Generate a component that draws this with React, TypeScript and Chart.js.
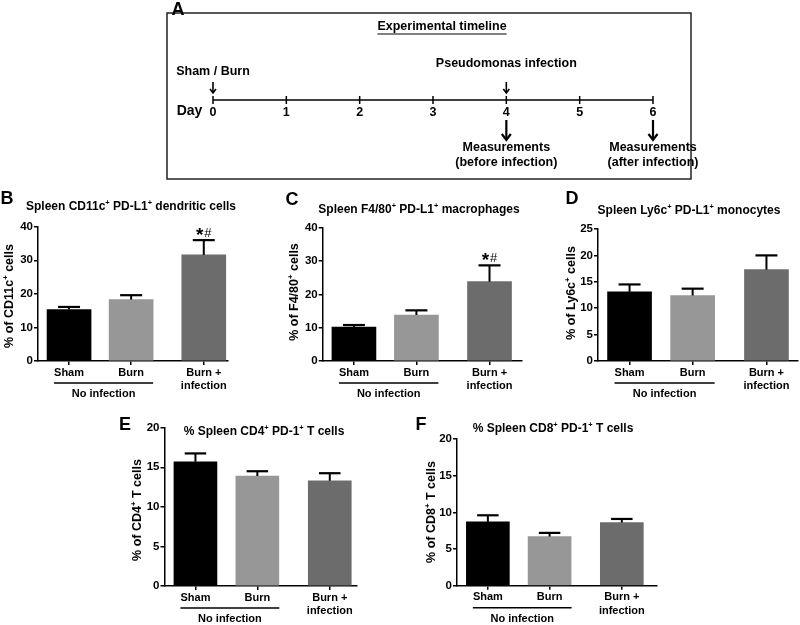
import React, { useEffect, useRef } from 'react';
import { Chart, registerables } from 'chart.js';

Chart.register(...registerables);

const FONT = '"Liberation Sans", Arial, Helvetica, sans-serif';
const W = 800;
const H = 625;

// ---------------- DATA ----------------
const GROUPS = ['Sham', 'Burn', 'Burn +\ninfection'];
const BRACKET_LABEL = 'No infection';

const B_MEANS = [15.3, 18.3, 31.6];
const B_SEM = [0.8, 1.3, 4.4];
const B_SIG = ['', '', '*#'];

const C_MEANS = [10.2, 13.8, 23.8];
const C_SEM = [0.6, 1.4, 4.9];
const C_SIG = ['', '', '*#'];

const D_MEANS = [13.1, 12.4, 17.3];
const D_SEM = [1.4, 1.3, 2.7];
const D_SIG = ['', '', ''];

const E_MEANS = [15.7, 13.9, 13.3];
const E_SEM = [1.05, 0.6, 0.95];
const E_SIG = ['', '', ''];

const F_MEANS = [8.7, 6.7, 8.6];
const F_SEM = [0.9, 0.5, 0.5];
const F_SIG = ['', '', ''];

const DAYS = [0, 1, 2, 3, 4, 5, 6];
const TIMELINE_TITLE = 'Experimental timeline';
const EVENTS_ABOVE = [
  { day: 0, label: 'Sham / Burn' },
  { day: 4, label: 'Pseudomonas infection' },
];
const EVENTS_BELOW = [
  { day: 4, lines: ['Measurements', '(before infection)'] },
  { day: 6, lines: ['Measurements', '(after infection)'] },
];

// ---------------- STYLE / LAYOUT ----------------
const BAR_COLORS = ['#000000', '#979797', '#6c6c6c'];
const SLOTS = [0, 1, 2.17];
const Y_AXIS_W = 34;
const X_AXIS_H = 40;

type Panel = {
  letter: string;
  letterPos: [number, number];
  title: string;
  titlePos: [number, number];
  titleSize: number;
  yTitle: string;
  yTitlePos: [number, number];
  means: number[];
  sems: number[];
  sig: string[];
  yMax: number;
  yStep: number;
  area: { l: number; t: number; r: number; b: number };
  xMax: number;
  barW: number;
};

const PANELS: Panel[] = [
  {
    letter: 'B', letterPos: [7, 199],
    title: 'Spleen CD11c^+ PD-L1^+ dendritic cells', titlePos: [131, 207], titleSize: 12,
    yTitle: '% of CD11c^+ cells', yTitlePos: [10, 296],
    means: B_MEANS, sems: B_SEM, sig: B_SIG, yMax: 40, yStep: 10,
    area: { l: 38, t: 226.7, r: 228, b: 361 }, xMax: 2.56, barW: 44,
  },
  {
    letter: 'C', letterPos: [292, 200],
    title: 'Spleen F4/80^+ PD-L1^+ macrophages', titlePos: [419, 210], titleSize: 12,
    yTitle: '% of F4/80^+ cells', yTitlePos: [295, 292],
    means: C_MEANS, sems: C_SEM, sig: C_SIG, yMax: 40, yStep: 10,
    area: { l: 322.7, t: 227.7, r: 522, b: 361 }, xMax: 2.69, barW: 44,
  },
  {
    letter: 'D', letterPos: [572, 199],
    title: 'Spleen Ly6c^+ PD-L1^+ monocytes', titlePos: [689, 211], titleSize: 12,
    yTitle: '% of Ly6c^+ cells', yTitlePos: [572, 293],
    means: D_MEANS, sems: D_SEM, sig: D_SIG, yMax: 25, yStep: 5,
    area: { l: 598, t: 229, r: 798, b: 361 }, xMax: 2.67, barW: 44,
  },
  {
    letter: 'E', letterPos: [125, 425],
    title: '% Spleen CD4^+ PD-1^+ T cells', titlePos: [264, 432], titleSize: 12,
    yTitle: '% of CD4^+ T cells', yTitlePos: [138, 510],
    means: E_MEANS, sems: E_SEM, sig: E_SIG, yMax: 20, yStep: 5,
    area: { l: 164.5, t: 427.7, r: 357, b: 586 }, xMax: 2.61, barW: 43,
  },
  {
    letter: 'F', letterPos: [421, 425],
    title: '% Spleen CD8^+ PD-1^+ T cells', titlePos: [553, 429], titleSize: 12,
    yTitle: '% of CD8^+ T cells', yTitlePos: [432, 512],
    means: F_MEANS, sems: F_SEM, sig: F_SIG, yMax: 20, yStep: 5,
    area: { l: 457, t: 439, r: 657, b: 585.7 }, xMax: 2.74, barW: 43,
  },
];

// ---------------- HELPERS ----------------
function drawRich(ctx: CanvasRenderingContext2D, text: string, x: number, y: number, size: number, align: 'left' | 'center' | 'right') {
  const parts = text.split(/(\^\+)/).filter((p) => p.length > 0);
  const base = `bold ${size}px ${FONT}`;
  const sup = `bold ${Math.round(size * 0.62 * 10) / 10}px ${FONT}`;
  let w = 0;
  for (const p of parts) {
    ctx.font = p === '^+' ? sup : base;
    w += ctx.measureText(p === '^+' ? '+' : p).width;
  }
  let cx = align === 'left' ? x : align === 'center' ? x - w / 2 : x - w;
  ctx.textAlign = 'left';
  ctx.textBaseline = 'middle';
  for (const p of parts) {
    if (p === '^+') {
      ctx.font = sup;
      ctx.fillText('+', cx, y - size * 0.33);
      cx += ctx.measureText('+').width;
    } else {
      ctx.font = base;
      ctx.fillText(p, cx, y);
      cx += ctx.measureText(p).width;
    }
  }
  return w;
}

function arrowDown(ctx: CanvasRenderingContext2D, x: number, y1: number, y2: number, lw: number, hw: number, hh: number) {
  ctx.save();
  ctx.strokeStyle = '#000';
  ctx.lineWidth = lw;
  ctx.beginPath();
  ctx.moveTo(x, y1);
  ctx.lineTo(x, y2 - 1);
  ctx.stroke();
  ctx.lineJoin = 'miter';
  ctx.beginPath();
  ctx.moveTo(x - hw / 2, y2 - hh);
  ctx.lineTo(x, y2);
  ctx.lineTo(x + hw / 2, y2 - hh);
  ctx.stroke();
  ctx.restore();
}

function drawSig(ctx: CanvasRenderingContext2D, s: string, x: number, yc: number) {
  if (!s) return;
  const starFont = `bold 19px ${FONT}`;
  const hashFont = `13px ${FONT}`;
  ctx.font = starFont;
  const ws = ctx.measureText('*').width;
  ctx.font = hashFont;
  const wh = ctx.measureText('#').width;
  const total = ws + wh + 1;
  const cx = x - total / 2;
  ctx.textAlign = 'left';
  ctx.textBaseline = 'alphabetic';
  ctx.fillStyle = '#000';
  ctx.font = starFont;
  ctx.fillText('*', cx, yc + 8.5);
  ctx.font = hashFont;
  ctx.fillText('#', cx + ws + 1, yc + 5);
}

function panelPlugin(p: Panel) {
  return {
    id: 'panel' + p.letter,
    afterDraw(chart: any) {
      const ctx: CanvasRenderingContext2D = chart.ctx;
      const xs = chart.scales.x;
      const ys = chart.scales.y;
      const meta = chart.getDatasetMeta(0);
      ctx.save();
      ctx.strokeStyle = '#000';
      ctx.fillStyle = '#000';
      // error bars
      meta.data.forEach((el: any, i: number) => {
        const yBar = ys.getPixelForValue(p.means[i]);
        const yTop = ys.getPixelForValue(p.means[i] + p.sems[i]);
        ctx.lineWidth = 2;
        ctx.beginPath();
        ctx.moveTo(el.x, yBar);
        ctx.lineTo(el.x, yTop);
        ctx.stroke();
        ctx.lineWidth = 2.2;
        ctx.beginPath();
        ctx.moveTo(el.x - p.barW / 4, yTop);
        ctx.lineTo(el.x + p.barW / 4, yTop);
        ctx.stroke();
        drawSig(ctx, p.sig[i], el.x, yTop - 8);
      });
      // bracket under Sham + Burn
      const yAxis = ys.getPixelForValue(0);
      const x1 = xs.getPixelForValue(SLOTS[0]) - 15;
      const x2 = xs.getPixelForValue(SLOTS[1]) + 22;
      ctx.lineWidth = 1.5;
      ctx.beginPath();
      ctx.moveTo(x1, yAxis + 22);
      ctx.lineTo(x2, yAxis + 22);
      ctx.stroke();
      ctx.font = `bold 11px ${FONT}`;
      ctx.textAlign = 'center';
      ctx.textBaseline = 'middle';
      ctx.fillText(BRACKET_LABEL, (x1 + x2) / 2, yAxis + 33);
      // title
      drawRich(ctx, p.title, p.titlePos[0], p.titlePos[1], p.titleSize, 'center');
      // y title
      ctx.save();
      ctx.translate(p.yTitlePos[0], p.yTitlePos[1]);
      ctx.rotate(-Math.PI / 2);
      drawRich(ctx, p.yTitle, 0, 0, 12.5, 'center');
      ctx.restore();
      // panel letter
      ctx.font = `bold 18px ${FONT}`;
      ctx.textAlign = 'center';
      ctx.textBaseline = 'middle';
      ctx.fillText(p.letter, p.letterPos[0], p.letterPos[1]);
      ctx.restore();
    },
  };
}

function barConfig(p: Panel): any {
  const xTickFont = { family: FONT, weight: 'bold' as const, size: 11 };
  const yTickFont = { family: FONT, weight: 'bold' as const, size: 11.5 };
  return {
    type: 'bar',
    data: {
      datasets: [
        {
          data: p.means.map((v, i) => ({ x: SLOTS[i], y: v })),
          backgroundColor: BAR_COLORS,
          borderWidth: 0,
          barThickness: p.barW,
        },
      ],
    },
    options: {
      animation: false,
      responsive: false,
      devicePixelRatio: 1,
      events: [],
      layout: {
        padding: {
          left: p.area.l - Y_AXIS_W,
          top: p.area.t,
          right: W - p.area.r,
          bottom: H - p.area.b - X_AXIS_H,
        },
      },
      plugins: { legend: { display: false }, tooltip: { enabled: false }, title: { display: false } },
      scales: {
        x: {
          type: 'linear',
          min: -0.5,
          max: p.xMax,
          offset: false,
          afterFit: (s: any) => { s.height = X_AXIS_H; },
          afterBuildTicks: (s: any) => { s.ticks = SLOTS.map((v) => ({ value: v })); },
          ticks: {
            callback: (_v: any, i: number) => GROUPS[i].split('\n'),
            font: xTickFont,
            color: '#000',
            padding: 1,
            autoSkip: false,
            maxRotation: 0,
            minRotation: 0,
          },
          grid: { display: true, drawOnChartArea: false, drawTicks: true, tickLength: 4, color: '#000', lineWidth: 1.5, offset: false },
          border: { display: true, color: '#000', width: 1.5 },
        },
        y: {
          min: 0,
          max: p.yMax,
          afterFit: (s: any) => { s.width = Y_AXIS_W; },
          ticks: { stepSize: p.yStep, font: yTickFont, color: '#000', padding: 1 },
          grid: { display: true, drawOnChartArea: false, drawTicks: true, tickLength: 4, color: '#000', lineWidth: 1.5 },
          border: { display: true, color: '#000', width: 1.5 },
        },
      },
    },
    plugins: [panelPlugin(p)],
  };
}

const timelinePlugin = {
  id: 'timelineDecor',
  afterDraw(chart: any) {
    const ctx: CanvasRenderingContext2D = chart.ctx;
    const xs = chart.scales.x;
    const ys = chart.scales.y;
    const yLine = ys.getPixelForValue(0);
    ctx.save();
    ctx.fillStyle = '#000';
    ctx.strokeStyle = '#222';
    // frame
    ctx.lineWidth = 1.5;
    ctx.strokeRect(167, 13, 524, 166);
    // letter
    ctx.font = `bold 18px ${FONT}`;
    ctx.textAlign = 'center';
    ctx.textBaseline = 'middle';
    ctx.fillText('A', 178, 10);
    // title underlined
    ctx.font = `bold 12.5px ${FONT}`;
    ctx.fillText(TIMELINE_TITLE, 442, 27);
    const tw = ctx.measureText(TIMELINE_TITLE).width;
    ctx.strokeStyle = '#000';
    ctx.lineWidth = 1.2;
    ctx.beginPath();
    ctx.moveTo(442 - tw / 2, 34);
    ctx.lineTo(442 + tw / 2, 34);
    ctx.stroke();
    // Day label
    ctx.font = `bold 14px ${FONT}`;
    ctx.textAlign = 'center';
    ctx.fillText('Day', 189.5, yLine + 11.5);
    // events above
    ctx.font = `bold 12.5px ${FONT}`;
    EVENTS_ABOVE.forEach((e) => {
      const x = xs.getPixelForValue(e.day);
      const yText = e.day === 0 ? yLine - 28 : yLine - 36;
      ctx.fillText(e.label, x, yText);
      arrowDown(ctx, x, yLine - 18, yLine - 7, 1.6, 6, 4);
    });
    // events below
    EVENTS_BELOW.forEach((e) => {
      const x = xs.getPixelForValue(e.day);
      arrowDown(ctx, x, yLine + 20, yLine + 40, 2.2, 9, 6);
      ctx.font = `bold 12.5px ${FONT}`;
      ctx.fillText(e.lines[0], x, yLine + 47.5);
      ctx.fillText(e.lines[1], x, yLine + 63);
    });
    ctx.restore();
  },
};

function timelineConfig(): any {
  return {
    type: 'line',
    data: {
      datasets: [
        {
          data: DAYS.map((d) => ({ x: d, y: 0 })),
          borderColor: '#000',
          borderWidth: 1.5,
          pointStyle: 'line',
          rotation: 90,
          pointRadius: 4,
          pointBorderWidth: 1.5,
          pointBorderColor: '#000',
          pointBackgroundColor: '#000',
          clip: false,
        },
      ],
    },
    options: {
      animation: false,
      responsive: false,
      devicePixelRatio: 1,
      events: [],
      layout: { padding: { left: 213, right: W - 653, top: 96, bottom: H - 104 - 24 } },
      plugins: { legend: { display: false }, tooltip: { enabled: false } },
      scales: {
        x: {
          type: 'linear',
          min: 0,
          max: 6,
          afterFit: (s: any) => { s.height = 24; },
          afterBuildTicks: (s: any) => { s.ticks = DAYS.map((v) => ({ value: v })); },
          ticks: { font: { family: FONT, weight: 'bold', size: 12.5 }, color: '#000', padding: 1.5, autoSkip: false, maxRotation: 0 },
          grid: { display: false, drawTicks: false },
          border: { display: false },
        },
        y: { display: false, min: -1, max: 1 },
      },
    },
    plugins: [timelinePlugin],
  };
}

function ChartCanvas({ make }: { make: () => any }) {
  const ref = useRef<HTMLCanvasElement>(null);
  useEffect(() => {
    const chart = new Chart(ref.current as HTMLCanvasElement, make());
    return () => chart.destroy();
  }, []);
  return (
    <canvas
      ref={ref}
      width={W}
      height={H}
      style={{ position: 'absolute', left: 0, top: 0, width: W, height: H }}
    />
  );
}

export default function App() {
  return (
    <div style={{ position: 'absolute', left: 0, top: 0, width: W, height: H, background: '#fff', overflow: 'hidden' }}>
      <ChartCanvas make={timelineConfig} />
      {PANELS.map((p) => (
        <ChartCanvas key={p.letter} make={() => barConfig(p)} />
      ))}
    </div>
  );
}
